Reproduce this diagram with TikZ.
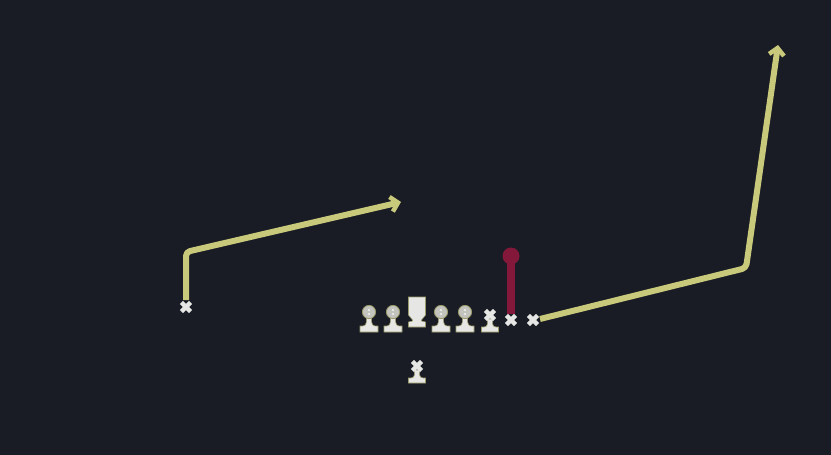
\documentclass[tikz,border=0pt]{standalone}
\usetikzlibrary{arrows.meta}
\definecolor{bg}{HTML}{191C24}
\definecolor{route}{HTML}{C9C97C}
\definecolor{blockred}{HTML}{84183A}
\definecolor{figwhite}{HTML}{E6E6E4}
\definecolor{figgray}{HTML}{C4C4BE}
\definecolor{figedge}{HTML}{9A9A6A}
\tikzset{
  routeline/.style={draw=route, line width=6pt, line join=round, rounded corners=4pt},
  routearrow/.style={routeline, -{Straight Barb[length=7pt,width=15pt,line width=4.5pt]}},
  blockline/.style={draw=blockred, line width=8pt},
  xmark/.pic={
    \draw[figwhite, line width=4.4pt] (-4.6,-4.6) -- (4.6,4.6) (-4.6,4.6) -- (4.6,-4.6);
  },
  hatman/.pic={
    \fill[figwhite, draw=figedge, line width=0.6pt]
      (-2.6,4) -- (2.6,4) -- (2.6,10) to[out=-90,in=180] (6,14) -- (9,14) -- (9,20)
      -- (-9,20) -- (-9,14) -- (-6,14) to[out=0,in=-90] (-2.6,10) -- cycle;
    \fill[figgray, draw=figedge, line width=0.8pt] (0,0) circle (6.6);
    \fill[figwhite] (-0.9,1) rectangle (0.9,3);
    \fill[figwhite] (-0.9,-3) rectangle (0.9,-1);
  },
  cupman/.pic={
    \fill[figwhite, draw=figedge, line width=0.6pt]
      (-8.5,-16) -- (8.5,-16) -- (8.5,2) -- (4.5,7) -- (4.5,8) -- (8.5,9) -- (8.5,14)
      -- (-8.5,14) -- (-8.5,9) -- (-4.5,8) -- (-4.5,7) -- (-8.5,2) -- cycle;
  },
  xbase/.pic={
    \fill[figwhite, draw=figedge, line width=0.6pt]
      (-2.6,4) -- (2.6,4) -- (2.6,9) to[out=-90,in=180] (6,12) -- (8.5,12) -- (8.5,17)
      -- (-8.5,17) -- (-8.5,12) -- (-6,12) to[out=0,in=-90] (-2.6,9) -- cycle;
    \draw[figwhite, line width=4.4pt] (-4.6,-4.6) -- (4.6,4.6) (-4.6,4.6) -- (4.6,-4.6);
  }
}
\begin{document}
\begin{tikzpicture}[x=1pt,y=-1pt]
\fill[bg] (0,0) rectangle (831,455);
\useasboundingbox (0,0) rectangle (831,455);

% players
\coordinate (wrL) at (186,307);
\coordinate (lt) at (369,312);
\coordinate (lg) at (393,312);
\coordinate (c) at (417,313);
\coordinate (rg) at (441,312);
\coordinate (rt) at (465,312);
\coordinate (te) at (490,315);
\coordinate (sl) at (511,320);
\coordinate (wrR) at (533,320);
\coordinate (qb) at (417,366);

% route points
\coordinate (wrLstart) at (186,300);
\coordinate (wrLturn) at (186,252);
\coordinate (wrLend) at (401,202);
\coordinate (wrRstart) at (540,319);
\coordinate (wrRturn) at (746,268);
\coordinate (wrRend) at (778,45);
\coordinate (slstart) at (511,314);
\coordinate (slend) at (511,256);

% routes
\draw[routearrow] (wrLstart) -- (wrLturn) -- (wrLend);
\draw[routearrow] (wrRstart) -- (wrRturn) -- (wrRend);
\draw[blockline] (slstart) -- (slend);
\fill[blockred] (slend) circle (8.5);

% players
\pic at (wrL) {xmark};
\pic at (lt) {hatman};
\pic at (lg) {hatman};
\pic at (c) {cupman};
\pic at (rg) {hatman};
\pic at (rt) {hatman};
\pic at (te) {xbase};
\pic at (sl) {xmark};
\pic at (wrR) {xmark};
\pic at (qb) {xbase};
\end{tikzpicture}
\end{document}
